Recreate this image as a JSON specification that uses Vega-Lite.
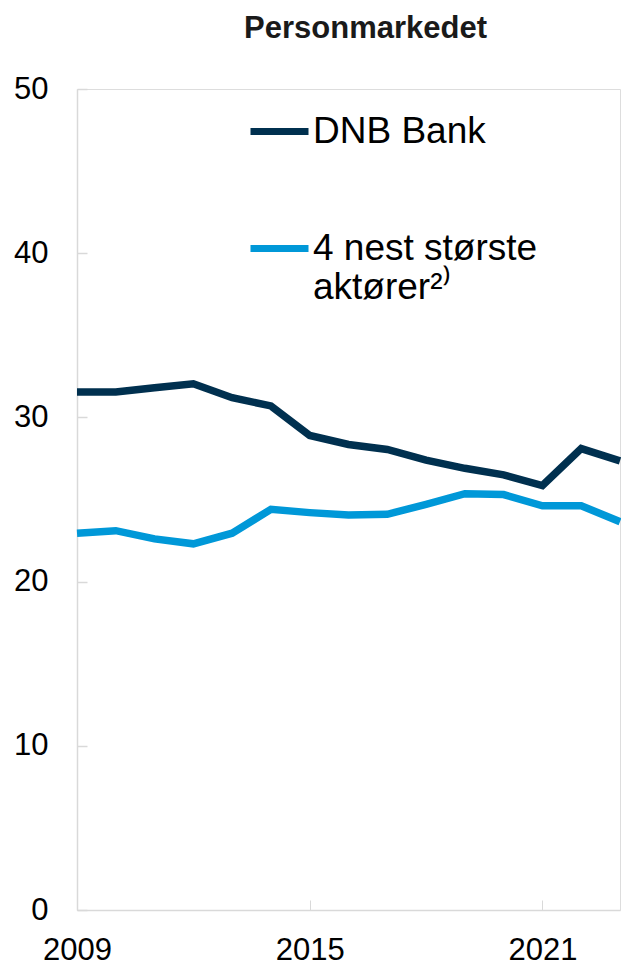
{
  "$schema": "https://vega.github.io/schema/vega-lite/v6.json",
  "width": 543,
  "height": 821,
  "autosize": {"type": "none"},
  "padding": {"left": 77, "top": 89, "right": 1, "bottom": 56},
  "background": "white",
  "title": {
    "text": "Personmarkedet",
    "fontSize": 31,
    "font": "Liberation Sans",
    "fontWeight": "bold",
    "color": "#1a1a1a",
    "anchor": "middle",
    "frame": "group",
    "dx": 17,
    "baseline": "alphabetic",
    "offset": 4
  },
  "data": {
    "values": [
      {"year": 2009, "series": "DNB Bank", "value": 31.55},
      {"year": 2010, "series": "DNB Bank", "value": 31.55},
      {"year": 2011, "series": "DNB Bank", "value": 31.8},
      {"year": 2012, "series": "DNB Bank", "value": 32.05},
      {"year": 2013, "series": "DNB Bank", "value": 31.2},
      {"year": 2014, "series": "DNB Bank", "value": 30.7},
      {"year": 2015, "series": "DNB Bank", "value": 28.9},
      {"year": 2016, "series": "DNB Bank", "value": 28.35},
      {"year": 2017, "series": "DNB Bank", "value": 28.05},
      {"year": 2018, "series": "DNB Bank", "value": 27.4},
      {"year": 2019, "series": "DNB Bank", "value": 26.9},
      {"year": 2020, "series": "DNB Bank", "value": 26.5},
      {"year": 2021, "series": "DNB Bank", "value": 25.85},
      {"year": 2022, "series": "DNB Bank", "value": 28.1},
      {"year": 2023, "series": "DNB Bank", "value": 27.35},
      {"year": 2009, "series": "4 nest største aktører²⁾", "value": 22.95},
      {"year": 2010, "series": "4 nest største aktører²⁾", "value": 23.1},
      {"year": 2011, "series": "4 nest største aktører²⁾", "value": 22.6},
      {"year": 2012, "series": "4 nest største aktører²⁾", "value": 22.3},
      {"year": 2013, "series": "4 nest største aktører²⁾", "value": 22.95},
      {"year": 2014, "series": "4 nest største aktører²⁾", "value": 24.4},
      {"year": 2015, "series": "4 nest største aktører²⁾", "value": 24.2},
      {"year": 2016, "series": "4 nest største aktører²⁾", "value": 24.05},
      {"year": 2017, "series": "4 nest største aktører²⁾", "value": 24.1},
      {"year": 2018, "series": "4 nest største aktører²⁾", "value": 24.7},
      {"year": 2019, "series": "4 nest største aktører²⁾", "value": 25.35},
      {"year": 2020, "series": "4 nest største aktører²⁾", "value": 25.3},
      {"year": 2021, "series": "4 nest største aktører²⁾", "value": 24.62},
      {"year": 2022, "series": "4 nest største aktører²⁾", "value": 24.62},
      {"year": 2023, "series": "4 nest største aktører²⁾", "value": 23.65}
    ]
  },
  "mark": {"type": "line", "strokeWidth": 7.5},
  "encoding": {
    "x": {
      "field": "year",
      "type": "quantitative",
      "scale": {"domain": [2009, 2023], "nice": false, "zero": false},
      "axis": {
        "values": [2009, 2015, 2021],
        "format": "d",
        "title": null,
        "grid": false,
        "domainColor": "#d9d9d9",
        "domainWidth": 1.5,
        "tickColor": "#d9d9d9",
        "tickSize": -10,
        "tickWidth": 1,
        "labelPadding": 35,
        "labelFontSize": 31,
        "labelFont": "Liberation Sans",
        "labelColor": "#000000",
        "labelFlush": false,
        "labelOverlap": false
      }
    },
    "y": {
      "field": "value",
      "type": "quantitative",
      "scale": {"domain": [0, 50], "nice": false},
      "axis": {
        "values": [0, 10, 20, 30, 40, 50],
        "title": null,
        "grid": false,
        "domainColor": "#d9d9d9",
        "domainWidth": 1.5,
        "tickColor": "#d9d9d9",
        "tickSize": -10,
        "tickWidth": 1.5,
        "labelPadding": 39,
        "labelFontSize": 31,
        "labelFont": "Liberation Sans",
        "labelColor": "#000000",
        "labelFlush": false,
        "labelOverlap": false
      }
    },
    "color": {
      "field": "series",
      "type": "nominal",
      "scale": {"domain": ["DNB Bank", "4 nest største aktører²⁾"], "range": ["#00304f", "#0098d8"]},
      "legend": {
        "orient": "none",
        "legendX": 170,
        "legendY": 10,
        "title": null,
        "padding": 0,
        "symbolType": "stroke",
        "symbolSize": 3364,
        "symbolStrokeWidth": 7,
        "labelFontSize": 37,
        "labelFont": "Liberation Sans",
        "labelColor": "#000000",
        "labelOffset": 1,
        "labelLimit": 0,
        "labelBaseline": "middle",
        "rowPadding": 66,
        "labelExpr": "datum.label == 'DNB Bank' ? datum.label : ['4 nest største', 'aktører²⁾']",
        "encoding": {"symbols": {"update": {"strokeCap": {"value": "round"}}}}
      }
    }
  }
}
